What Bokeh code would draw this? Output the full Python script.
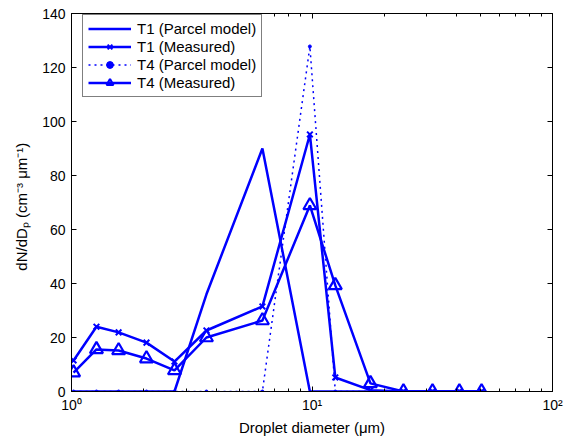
from bokeh.plotting import figure
from bokeh.models import (LogAxis, LinearAxis, FixedTicker, CustomJSTickFormatter,
                          Legend, LegendItem, Range1d)
from bokeh.embed import file_html
from bokeh.resources import INLINE

# ---- data ----
diameter = [1.02, 1.27, 1.57, 2.05, 2.68, 3.64, 6.22, 9.8, 12.5, 17.5, 24.0, 31.7, 41.0, 50.7]
t1_parcel = [0, 0, 0, 0, 0, 36, 90, 0, 0, 0, 0, 0, 0, 0]
t1_measured = [11.5, 24, 21.9, 18.1, 11.1, 22.6, 31.5, 95.2, 5.2, 0.5, 0, 0, 0, 0]
t4_parcel = [0, 0, 0, 0, 0, 0, 0, 127.8, 0, 0, 0, 0, 0, 0]
t4_measured = [7, 15.6, 15.2, 12.2, 7.8, 20, 26.3, 68.9, 39.3, 3, 0, 0, 0, 0]
x_major = [1, 10, 100]
x_minor = [2, 3, 4, 5, 6, 7, 8, 9, 20, 30, 40, 50, 60, 70, 80, 90]
y_ticks = [0, 20, 40, 60, 80, 100, 120, 140]

FONT = "Liberation Sans"
FS = "14px"
LFS = "15px"
BLUE = "#0000ff"

p = figure(width=565, height=443, x_axis_type="log", output_backend="svg",
           toolbar_location=None, x_range=Range1d(1, 100), y_range=Range1d(0, 140),
           min_border_left=71, min_border_right=13, min_border_top=13, min_border_bottom=52)
p.xgrid.visible = False
p.ygrid.visible = False
p.outline_line_color = "black"
p.outline_line_width = 1
p.background_fill_color = "white"
p.border_fill_color = "white"

xt = FixedTicker(ticks=x_major, minor_ticks=x_minor)
yt = FixedTicker(ticks=y_ticks)
fmt = CustomJSTickFormatter(code="""
const m = {1: '10\u2070', 10: '10\u00b9', 100: '10\u00b2'};
const k = Math.round(tick);
return (k in m) ? m[k] : '';
""")
blank = CustomJSTickFormatter(code="return '';")

def style(ax):
    ax.axis_line_color = "black"
    ax.major_tick_in = 5
    ax.major_tick_out = 0
    ax.minor_tick_in = 3
    ax.minor_tick_out = 0
    ax.major_tick_line_color = "black"
    ax.minor_tick_line_color = "black"
    ax.major_label_text_font = FONT
    ax.major_label_text_font_size = FS
    ax.major_label_text_color = "black"
    ax.axis_label_text_font = FONT
    ax.axis_label_text_font_size = LFS
    ax.axis_label_text_font_style = "normal"
    ax.axis_label_text_color = "black"

xa = p.xaxis[0]
xa.ticker = xt
xa.formatter = fmt
xa.axis_label = "Droplet diameter (\u03bcm)"
style(xa)
xa.major_label_standoff = 5
xa.axis_label_standoff = 3

ya = p.yaxis[0]
ya.ticker = yt
ya.axis_label = "dN/dD\u209a  (cm\u207b\u00b3  \u03bcm\u207b\u00b9)"
style(ya)
ya.minor_tick_in = 0
ya.major_label_standoff = 6
ya.axis_label_standoff = 9

top = LogAxis(ticker=xt, formatter=blank)
style(top)
top.major_label_standoff = 0
p.add_layout(top, "above")
right = LinearAxis(ticker=yt, formatter=blank)
style(right)
right.minor_tick_in = 0
right.major_label_standoff = 0
p.add_layout(right, "right")

r1 = p.line(diameter, t1_parcel, line_color=BLUE, line_width=2.5)
r2l = p.line(diameter, t1_measured, line_color=BLUE, line_width=2.5)
r2m = p.scatter(diameter, t1_measured, marker="x", size=8, line_color=BLUE, line_width=2)
r3l = p.line(diameter, t4_parcel, line_color=BLUE, line_width=1.5, line_dash="2 4")
r3m = p.scatter(diameter, t4_parcel, marker="circle", size=3, line_color=BLUE, fill_color=BLUE)
r4l = p.line(diameter, t4_measured, line_color=BLUE, line_width=2.5)
r4m = p.scatter(diameter, t4_measured, marker="triangle", size=13, line_color=BLUE,
                line_width=2.2, fill_color=None)

legend = Legend(items=[
    LegendItem(label="T1 (Parcel model)", renderers=[r1]),
    LegendItem(label="T1 (Measured)", renderers=[r2l, r2m]),
    LegendItem(label="T4 (Parcel model)", renderers=[r3l, r3m]),
    LegendItem(label="T4 (Measured)", renderers=[r4l, r4m]),
], location=(11, 294))
legend.label_text_font = FONT
legend.label_text_font_size = LFS
legend.label_text_color = "black"
legend.glyph_width = 43
legend.glyph_height = 17
legend.label_height = 17
legend.spacing = 1
legend.padding = 5
legend.margin = 0
legend.label_standoff = 6
legend.border_line_color = "black"
legend.border_line_width = 1
legend.background_fill_alpha = 1
p.add_layout(legend, "center")

open("out.html", "w").write(file_html(p, INLINE))
